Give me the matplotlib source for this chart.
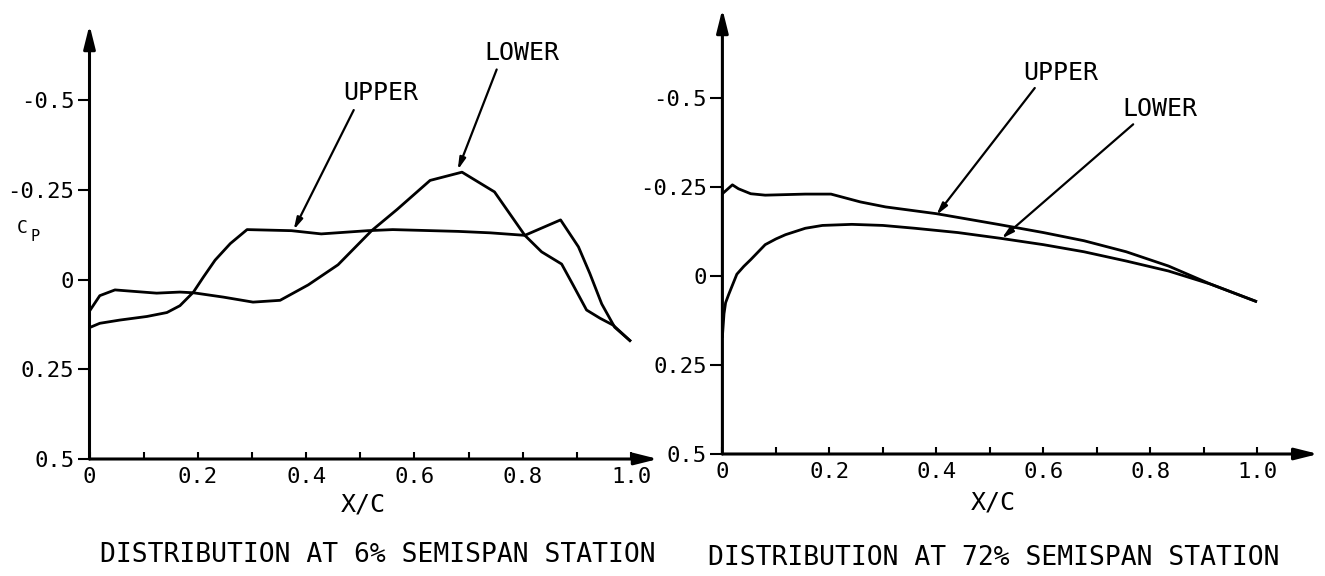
import matplotlib
matplotlib.use('Agg')
import matplotlib.pyplot as plt

plt.rcParams['font.family'] = ['DejaVu Sans Mono', 'DejaVu Sans']

# Распределение Cp на 6% полуразмаха
x_up_6 = [0, 0.019, 0.056, 0.106, 0.143, 0.167, 0.192, 0.210, 0.232, 0.26, 0.291, 0.373,
          0.428, 0.514, 0.56, 0.681, 0.74, 0.804, 0.870, 0.903, 0.924, 0.946, 0.970, 0.998]
cp_up_6 = [0.134, 0.122, 0.113, 0.103, 0.092, 0.073, 0.035, -0.006, -0.054, -0.10, -0.139, -0.136,
           -0.127, -0.136, -0.139, -0.134, -0.13, -0.123, -0.166, -0.091, -0.017, 0.068, 0.133, 0.170]
x_lo_6 = [0, 0.019, 0.047, 0.081, 0.124, 0.167, 0.192, 0.247, 0.302, 0.352, 0.404, 0.459, 0.474,
          0.521, 0.568, 0.629, 0.688, 0.748, 0.804, 0.835, 0.872, 0.893, 0.918, 0.943, 0.967, 0.998]
cp_lo_6 = [0.088, 0.045, 0.029, 0.033, 0.038, 0.035, 0.037, 0.049, 0.063, 0.058, 0.015, -0.041, -0.064,
           -0.136, -0.195, -0.276, -0.299, -0.244, -0.123, -0.077, -0.043, 0.015, 0.085, 0.108, 0.127, 0.170]

# Распределение Cp на 72% полуразмаха
x_up_72 = [0, 0.0187, 0.03, 0.053, 0.08, 0.155, 0.203, 0.258, 0.305, 0.40, 0.45, 0.519, 0.60,
           0.676, 0.755, 0.834, 0.913, 0.997]
cp_up_72 = [-0.231, -0.256, -0.245, -0.231, -0.227, -0.23, -0.23, -0.208, -0.194, -0.175, -0.162,
            -0.144, -0.122, -0.099, -0.068, -0.028, 0.023, 0.071]
x_lo_72 = [0, 0.003, 0.006, 0.012, 0.027, 0.04, 0.053, 0.08, 0.10, 0.118, 0.155, 0.187, 0.242,
           0.30, 0.36, 0.44, 0.519, 0.60, 0.676, 0.755, 0.834, 0.913, 0.997]
cp_lo_72 = [0.17, 0.106, 0.075, 0.051, -0.005, -0.027, -0.046, -0.088, -0.104, -0.116, -0.134,
            -0.142, -0.145, -0.142, -0.134, -0.122, -0.106, -0.088, -0.068, -0.042, -0.014, 0.023, 0.071]

x_major = [0, 0.2, 0.4, 0.6, 0.8, 1.0]
x_labels = ['0', '0.2', '0.4', '0.6', '0.8', '1.0']
x_minor = [0.1, 0.3, 0.5, 0.7, 0.9]
y_ticks = [-0.5, -0.25, 0, 0.25, 0.5]
y_labels = ['-0.5', '-0.25', '0', '0.25', '0.5']

W, H = 1325, 576
fig = plt.figure(figsize=(W / 100, H / 100), dpi=100)

ax1 = fig.add_axes([89.5 / W, 117 / H, 595.6 / W, 448.75 / H])
ax1.set_xlim(0, 1.1)
ax1.set_ylim(0.5, -0.75)

ax2 = fig.add_axes([722.4 / W, 122 / H, 615.1 / W, 448.6 / H])
ax2.set_xlim(0, 1.15)
ax2.set_ylim(0.5, -0.76)


def setup(ax, xend, ytop):
    for s in ax.spines.values():
        s.set_visible(False)
    ax.set_xticks(x_major)
    ax.set_xticklabels(x_labels)
    ax.set_xticks(x_minor, minor=True)
    ax.set_yticks(y_ticks)
    ax.set_yticklabels(y_labels)
    ax.tick_params(axis='x', which='both', direction='in', length=5, width=1.5, pad=6, labelsize=16)
    ax.tick_params(axis='y', direction='out', length=9, width=1.5, pad=2, labelsize=16)
    ax.patch.set_alpha(0)
    # оси со стрелками
    ax.annotate('', xy=(xend, 0.5), xytext=(0, 0.5), annotation_clip=False,
                arrowprops=dict(arrowstyle='-|>,head_length=1.4,head_width=0.35', lw=2.2,
                                color='black', shrinkA=0, shrinkB=0))
    ax.annotate('', xy=(0, ytop), xytext=(0, 0.5), annotation_clip=False,
                arrowprops=dict(arrowstyle='-|>,head_length=1.4,head_width=0.35', lw=2.2,
                                color='black', shrinkA=0, shrinkB=0))


def label(ax, text, pos, tail, head):
    ax.text(pos[0], pos[1], text, ha='center', va='center', fontsize=18)
    ax.annotate('', xy=head, xytext=tail, annotation_clip=False,
                arrowprops=dict(arrowstyle='-|>,head_length=0.7,head_width=0.18', lw=1.6,
                                color='black', shrinkA=0, shrinkB=0))


setup(ax1, 1.05, -0.709)
setup(ax2, 1.114, -0.75)

ax1.plot(x_up_6, cp_up_6, color='black', lw=2.0)
ax1.plot(x_lo_6, cp_lo_6, color='black', lw=2.0)
ax2.plot(x_up_72, cp_up_72, color='black', lw=2.0)
ax2.plot(x_lo_72, cp_lo_72, color='black', lw=2.0)

label(ax1, 'UPPER', (0.537, -0.52), (0.488, -0.472), (0.377, -0.138))
label(ax1, 'LOWER', (0.799, -0.631), (0.752, -0.585), (0.68, -0.305))
label(ax2, 'UPPER', (0.633, -0.569), (0.584, -0.528), (0.40, -0.171))
label(ax2, 'LOWER', (0.817, -0.468), (0.768, -0.426), (0.522, -0.105))

fig.text(363 / W, 1 - 505 / H, 'X/C', ha='center', va='center', fontsize=18)
fig.text(993 / W, 1 - 503 / H, 'X/C', ha='center', va='center', fontsize=18)
fig.text(22 / W, 1 - 228 / H, 'C', ha='center', va='center', fontsize=13)
fig.text(35 / W, 1 - 237 / H, 'P', ha='center', va='center', fontsize=11)

fig.text(378 / W, 1 - 555 / H, 'DISTRIBUTION AT 6% SEMISPAN STATION', ha='center', va='center', fontsize=19)
fig.text(994 / W, 1 - 558 / H, 'DISTRIBUTION AT 72% SEMISPAN STATION', ha='center', va='center', fontsize=19)

fig.savefig('out.png', dpi=100)
